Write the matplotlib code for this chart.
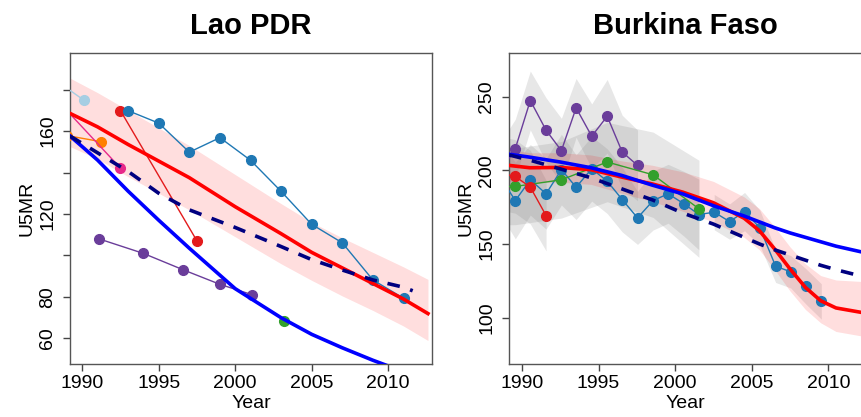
import matplotlib
matplotlib.use("Agg")
import matplotlib.pyplot as plt

plt.rcParams["font.family"] = ["Liberation Sans", "DejaVu Sans"]

# ---- Lao PDR ----
lao_fit_years = [1989.2, 1991, 1993, 1995, 1997, 2000, 2003, 2005, 2007, 2009, 2011, 2012.6]
lao_red = [168.5, 162, 153.5, 145.5, 137.5, 123.5, 110.5, 101.5, 94, 86.5, 79, 72]
lao_red_hi = [185.5, 178.5, 170, 161.5, 153, 139, 125, 116, 108.5, 101.5, 94.5, 88.5]
lao_red_lo = [152.5, 146.5, 138, 130, 122, 109, 96, 88, 80.5, 73.5, 66, 59]
lao_blue = [157.6, 146, 131, 117, 103.5, 84, 70, 62, 55.5, 49.5, 44, 40]
lao_dash_years = [1989.2, 1991, 1993, 1995, 1997, 2000, 2003, 2005, 2007, 2009, 2011, 2011.6]
lao_dash = [157.6, 149.5, 140.5, 130, 122, 113.5, 104.3, 98, 93, 88.2, 84.7, 83]

lao_series = [
    ("#A6CEE3", [1988.3, 1990.1], [184.3, 174.9]),
    ("#FF7F00", [1989.0, 1991.2], [157.8, 154.9]),
    ("#E7298A", [1988.5, 1992.5], [173.8, 142.1]),
    ("#E31A1C", [1992.5, 1997.5], [169.8, 107.0]),
    ("#1F78B4", [1993.0, 1995.0, 1997.0, 1999.0, 2001.0, 2003.0, 2005.0, 2007.0, 2009.0, 2011.0],
     [169.8, 163.8, 149.8, 156.8, 145.9, 130.9, 115.0, 106.1, 88.2, 79.4]),
    ("#6A3D9A", [1991.1, 1994.0, 1996.6, 1999.0, 2001.1], [108.0, 101.0, 93.1, 86.1, 81.1]),
    ("#33A02C", [2003.2], [68.2]),
]

# ---- Burkina Faso ----
bf_fit_years = [1989.15, 1990.5, 1992.5, 1994.5, 1996.5, 1998.5, 2000.5, 2002.5, 2004.5,
                2005.5, 2006.5, 2007.5, 2008.5, 2009.5, 2010.5, 2012.2]
bf_red = [203.4, 201.8, 202, 200.5, 195.5, 190.8, 185.2, 178, 167.5, 159, 146.5, 133, 120.5,
          111.4, 106.5, 103.4]
bf_red_hi = [214.5, 212, 212, 210.5, 206.5, 203.5, 199, 192.5, 182, 174, 161.5, 148, 136.5,
             128.5, 125.5, 124.5]
bf_red_lo = [192.5, 191.8, 192, 190.5, 184.5, 178.8, 172.2, 165, 154.5, 146, 132.5, 118, 105.5,
             96.4, 90.5, 87.4]
bf_blue = [211, 209, 205.7, 201.8, 196.6, 190, 184, 176, 169, 165, 161, 157.5, 154.5, 151.5,
           148.5, 144.5]
bf_dash = [210.5, 207, 201, 195, 187.5, 180, 171, 163.5, 154.5, 150, 146, 142.5, 139, 135.5,
           132.5, 128]

# colour, years, values, band half-widths, where the band is split
bf_series = [
    ("#6A3D9A",
     [1988.6, 1989.56, 1990.54, 1991.57, 1992.57, 1993.53, 1994.55, 1995.56, 1996.54, 1997.54],
     [199, 214.8, 247.5, 227.3, 213.4, 242.5, 223.2, 236.8, 212.5, 203.4],
     [20, 20, 20, 22, 22, 20, 22, 25, 25, 24], []),
    ("#1F78B4",
     [1988.6, 1989.56, 1990.54, 1991.57, 1992.57, 1993.53, 1994.55, 1995.56, 1996.54, 1997.54,
      1998.56, 1999.54, 2000.57, 2001.55, 2002.55, 2003.55, 2004.53, 2005.53, 2006.56, 2007.54,
      2008.54, 2009.54],
     [195, 179.5, 193.6, 184.1, 200.5, 188.6, 201.1, 192.7, 180.2, 167.7, 179.5, 184.1, 177.3,
      170.0, 171.6, 165.2, 172.0, 160.9, 134.8, 131.1, 121.1, 110.9],
     [25, 26, 24, 24, 24, 22, 22, 22, 22, 18, 20, 20, 22, 24, 12, 12, 13, 12, 11, 11, 12, 12],
     [14]),
    ("#33A02C", [1988.6, 1989.56, 1992.57, 1995.56, 1998.56, 2001.55],
     [189, 189.1, 193.6, 205.7, 197.0, 173.9], [26, 26, 26, 27, 29, 33], []),
    ("#E31A1C", [1988.6, 1989.56, 1990.54, 1991.57], [198, 195.9, 188.6, 169.3],
     [25, 25, 25, 24], []),
]

fig = plt.figure(figsize=(8.61, 4.17), dpi=100)
ax1 = fig.add_axes([0.0813, 0.1271, 0.4204, 0.7458])
ax2 = fig.add_axes([0.5912, 0.1271, 0.41, 0.7458])

# left panel
ax1.fill_between(lao_fit_years, lao_red_lo, lao_red_hi, color="red", alpha=0.13, lw=0)
for col, xs, ys in lao_series:
    ax1.plot(xs, ys, "-o", color=col, lw=1, ms=7, zorder=3)
ax1.plot(lao_fit_years, lao_red, color="red", lw=2.6, zorder=4)
ax1.plot(lao_fit_years, lao_blue, color="#0000FF", lw=2.6, zorder=4)
ax1.plot(lao_dash_years, lao_dash, color="#000080", lw=2.6, dashes=(3.5, 3), zorder=4)
ax1.set_xlim(1989.2, 2012.86)
ax1.set_ylim(47.7, 197.6)
ax1.set_yticks([60, 80, 100, 120, 140, 160, 180])
ax1.set_yticklabels(["60", "80", "", "120", "", "160", ""])
ax1.set_title("Lao PDR", fontsize=21, fontweight="bold", pad=14)

# right panel
for col, xs, ys, hw, splits in bf_series:
    starts = [0] + splits
    ends = splits + [len(xs)]
    for a, b in zip(starts, ends):
        lo = [y - h for y, h in zip(ys[a:b], hw[a:b])]
        hi = [y + h for y, h in zip(ys[a:b], hw[a:b])]
        ax2.fill_between(xs[a:b], lo, hi, color="gray", alpha=0.19, lw=0)
ax2.fill_between(bf_fit_years, bf_red_lo, bf_red_hi, color="red", alpha=0.13, lw=0)
for col, xs, ys, hw, splits in bf_series:
    ax2.plot(xs, ys, "-o", color=col, lw=1, ms=7, zorder=3)
ax2.plot(bf_fit_years, bf_red, color="red", lw=2.6, zorder=4)
ax2.plot(bf_fit_years, bf_blue, color="#0000FF", lw=2.6, zorder=4)
ax2.plot(bf_fit_years, bf_dash, color="#000080", lw=2.6, dashes=(3.5, 3), zorder=4)
ax2.set_xlim(1989.15, 2012.2)
ax2.set_ylim(68.4, 279.8)
ax2.set_yticks([100, 150, 200, 250])
ax2.set_title("Burkina Faso", fontsize=21, fontweight="bold", pad=14)

for ax in (ax1, ax2):
    ax.set_xticks([1990, 1995, 2000, 2005, 2010])
    ax.set_xlabel("Year", fontsize=14, labelpad=2)
    ax.set_ylabel("U5MR", fontsize=14, labelpad=3)
    ax.tick_params(direction="out", length=4.8, width=1, color="#444444",
                   labelsize=14, pad=3)
    ax.tick_params(axis="y", pad=5)
    for lab in ax.get_yticklabels():
        lab.set_rotation(90)
        lab.set_va("center")
    for s in ax.spines.values():
        s.set_color("#555555")
        s.set_linewidth(1)

fig.savefig("out.png", dpi=100)
